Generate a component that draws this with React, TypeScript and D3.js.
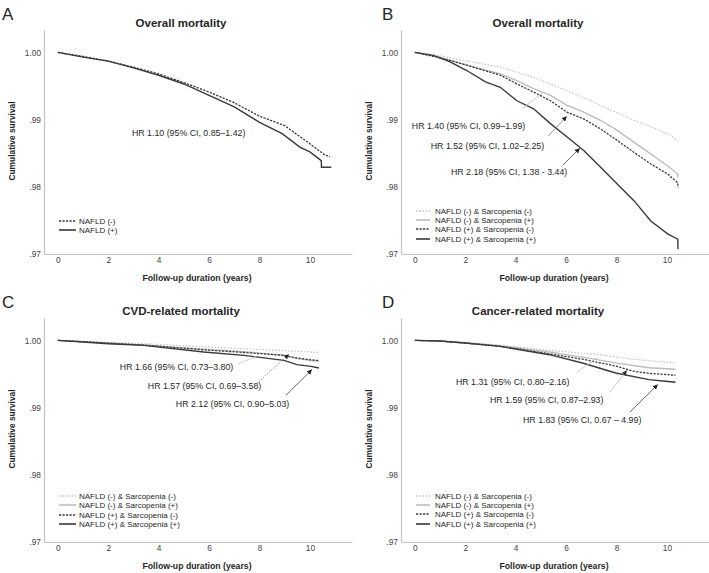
import { useEffect, useRef } from "react";
import * as d3 from "d3";

type Pt = [number, number]; // [years, cumulative survival]

// ---- shared axis values ----
const X_TICKS = [0, 2, 4, 6, 8, 10];
const Y_TICKS = [0.97, 0.98, 0.99, 1.0];
const Y_TICK_LABELS = [".97", ".98", ".99", "1.00"];

// ---- legend labels ----
const LEGEND_NAFLD = ["NAFLD (-)", "NAFLD (+)"];
const LEGEND_GROUPS = [
  "NAFLD (-) & Sarcopenia (-)",
  "NAFLD (-) & Sarcopenia (+)",
  "NAFLD (+) & Sarcopenia (-)",
  "NAFLD (+) & Sarcopenia (+)",
];

// ---- panel A : overall mortality by NAFLD ----
const A_NAFLD_NEG: Pt[] = [
  [0, 1], [1, 0.9994], [2, 0.9987], [3, 0.9978], [4, 0.9968], [5, 0.9955],
  [6, 0.9941], [7, 0.9925], [8, 0.9905], [9, 0.9891], [10, 0.9864],
  [10.6, 0.9847], [10.8, 0.9845],
];
const A_NAFLD_POS: Pt[] = [
  [0, 1], [1, 0.9993], [2, 0.9987], [3, 0.9977], [4, 0.9966], [5, 0.9953],
  [6, 0.9936], [7, 0.9919], [8, 0.9896], [8.9, 0.9879], [9.6, 0.9859],
  [10, 0.9852], [10.45, 0.9839], [10.46, 0.9829], [10.85, 0.9829],
];

// ---- panel B : overall mortality by NAFLD x sarcopenia ----
const B_NEG_NEG: Pt[] = [
  [0, 1], [1, 0.9995], [2.06, 0.9987], [3.39, 0.9978], [4.71, 0.9963],
  [6.04, 0.9943], [7.37, 0.9921], [8.7, 0.9899], [10.03, 0.9879], [10.43, 0.9869],
];
const B_NEG_POS: Pt[] = [
  [0, 1], [1, 0.9993], [2.06, 0.9981], [3.39, 0.9968], [4.05, 0.9958],
  [4.71, 0.9946], [5.38, 0.9936], [6.04, 0.9921], [6.7, 0.9911], [7.37, 0.9899],
  [8.03, 0.9884], [8.7, 0.9866], [9.36, 0.9849], [10.03, 0.9831],
  [10.43, 0.9819], [10.44, 0.9814],
];
const B_POS_NEG: Pt[] = [
  [0, 1], [1, 0.9992], [2.06, 0.9981], [3.39, 0.9966], [4.05, 0.9953],
  [4.71, 0.9941], [5.38, 0.9928], [6.04, 0.9911], [6.7, 0.9901], [7.37, 0.9886],
  [8.03, 0.9869], [8.7, 0.9851], [9.36, 0.9834], [10.03, 0.9819],
  [10.43, 0.9806], [10.44, 0.9799],
];
const B_POS_POS: Pt[] = [
  [0, 1], [0.73, 0.99955], [1.4, 0.9986], [2.06, 0.9973], [2.8, 0.9956],
  [3.39, 0.9948], [4.05, 0.9928], [4.71, 0.9916], [5.38, 0.9894], [6.04, 0.9874],
  [6.7, 0.9854], [7.37, 0.9829], [8.03, 0.9804], [8.7, 0.9779], [9.36, 0.9749],
  [10.03, 0.973], [10.43, 0.9722], [10.44, 0.9707],
];

// ---- panel C : CVD-related mortality ----
const C_NEG_NEG: Pt[] = [
  [0, 1], [2, 0.9997], [4, 0.9994], [6, 0.999], [7.38, 0.99876], [10.36, 0.9982],
];
const C_NEG_POS: Pt[] = [
  [0, 1], [2, 0.9996], [3.41, 0.9993], [5.79, 0.9987], [7.38, 0.9983],
  [8.97, 0.9978], [9.48, 0.9973], [10.04, 0.997], [10.36, 0.9969],
];
const C_POS_NEG: Pt[] = [
  [0, 1], [2, 0.9996], [3.41, 0.9993], [5.79, 0.9986], [7.38, 0.9982],
  [8.97, 0.99776], [9.3, 0.9975], [10.04, 0.9971], [10.36, 0.997],
];
const C_POS_POS: Pt[] = [
  [0, 1], [1, 0.99975], [2, 0.9995], [3.41, 0.99926], [5.79, 0.99827],
  [7.38, 0.99777], [8.97, 0.99703], [9.48, 0.99639], [10.04, 0.99614], [10.36, 0.99589],
];

// ---- panel D : cancer-related mortality ----
const D_NEG_NEG: Pt[] = [
  [0, 1], [1, 0.9999], [2, 0.9997], [3.36, 0.9993], [5.34, 0.9985],
  [7.3, 0.9979], [8.63, 0.9972], [10.34, 0.99666],
];
const D_NEG_POS: Pt[] = [
  [0, 1], [1, 0.9999], [2, 0.9996], [3.36, 0.9992], [5.34, 0.99828],
  [6.65, 0.9975], [7.97, 0.99666], [9.29, 0.99593], [10.34, 0.9957],
];
const D_POS_NEG: Pt[] = [
  [0, 1], [1, 0.9999], [2, 0.9996], [3.36, 0.99915], [5.34, 0.998],
  [6.65, 0.9972], [7.97, 0.99618], [8.63, 0.99544], [9.29, 0.9951], [10.34, 0.9948],
];
const D_POS_POS: Pt[] = [
  [0, 1], [1, 0.9999], [2, 0.9996], [3.36, 0.99911], [5.34, 0.99787],
  [6.65, 0.99663], [7.97, 0.99515], [9.29, 0.99416], [9.95, 0.99391], [10.34, 0.99376],
];

// line styles
const STYLE = {
  lightDot: { stroke: "#c6c6c6", dash: "1.6,1.6", width: 1.2 },
  lightSolid: { stroke: "#bdbdbd", dash: "", width: 1.4 },
  darkDash: { stroke: "#3a3a3a", dash: "2.2,1.3", width: 1.3 },
  darkSolid: { stroke: "#3a3a3a", dash: "", width: 1.4 },
};
type StyleKey = keyof typeof STYLE;

interface Note { text: string; at: Pt }
interface Arrow { from: Pt; to: Pt; color: string; dash?: string; head: boolean }
interface Panel {
  letter: string;
  title: string;
  dx: number;
  dy: number;
  letterX: number;
  series: { data: Pt[]; style: StyleKey }[];
  legend: { labels: string[]; x1: number; x2: number; tx: number; rows: number[] };
  notes: Note[];
  arrows: Arrow[];
}

const PANELS: Panel[] = [
  {
    letter: "A", title: "Overall mortality", dx: 0, dy: 0, letterX: 2,
    series: [
      { data: A_NAFLD_NEG, style: "darkDash" },
      { data: A_NAFLD_POS, style: "darkSolid" },
    ],
    legend: { labels: LEGEND_NAFLD, x1: 59, x2: 76, tx: 79, rows: [221, 230] },
    notes: [{ text: "HR 1.10 (95% CI, 0.85–1.42)", at: [2.94, 0.98797] }],
    arrows: [],
  },
  {
    letter: "B", title: "Overall mortality", dx: 357, dy: 0, letterX: 25,
    series: [
      { data: B_NEG_NEG, style: "lightDot" },
      { data: B_NEG_POS, style: "lightSolid" },
      { data: B_POS_NEG, style: "darkDash" },
      { data: B_POS_POS, style: "darkSolid" },
    ],
    legend: { labels: LEGEND_GROUPS, x1: 59, x2: 73, tx: 78, rows: [211, 220, 229, 239] },
    notes: [
      { text: "HR 1.40 (95% CI, 0.99–1.99)", at: [-0.12, 0.98901] },
      { text: "HR 1.52 (95% CI, 1.02–2.25)", at: [0.63, 0.98604] },
      { text: "HR 2.18 (95% CI, 1.38 - 3.44)", at: [1.43, 0.98218] },
    ],
    arrows: [
      { from: [4.29, 0.99168], to: [5.04, 0.99391], color: "#c4c4c4", head: false },
      { from: [5.28, 0.98752], to: [6.03, 0.99049], color: "#8a8a8a", head: true },
      { from: [5.87, 0.98322], to: [6.55, 0.98574], color: "#555", head: true },
    ],
  },
  {
    letter: "C", title: "CVD-related mortality", dx: 0, dy: 288, letterX: 2,
    series: [
      { data: C_NEG_NEG, style: "lightDot" },
      { data: C_NEG_POS, style: "lightSolid" },
      { data: C_POS_NEG, style: "darkDash" },
      { data: C_POS_POS, style: "darkSolid" },
    ],
    legend: { labels: LEGEND_GROUPS, x1: 59, x2: 76, tx: 79, rows: [208, 217, 227, 236] },
    notes: [
      { text: "HR 1.66 (95% CI, 0.73–3.80)", at: [2.46, 0.99599] },
      { text: "HR 1.57 (95% CI, 0.69–3.58)", at: [3.57, 0.99317] },
      { text: "HR 2.12 (95% CI, 0.90–5.03)", at: [4.68, 0.99049] },
    ],
    arrows: [
      { from: [7.14, 0.99644], to: [7.86, 0.99762], color: "#c8c8c8", head: false },
      { from: [7.9, 0.99361], to: [9.17, 0.99795], color: "#9a9a9a", dash: "1.5,1.2", head: true },
      { from: [9.05, 0.99183], to: [10.08, 0.99565], color: "#555", head: true },
    ],
  },
  {
    letter: "D", title: "Cancer-related mortality", dx: 357, dy: 288, letterX: 25,
    series: [
      { data: D_NEG_NEG, style: "lightDot" },
      { data: D_NEG_POS, style: "lightSolid" },
      { data: D_POS_NEG, style: "darkDash" },
      { data: D_POS_POS, style: "darkSolid" },
    ],
    legend: { labels: LEGEND_GROUPS, x1: 59, x2: 73, tx: 78, rows: [208, 217, 226, 236] },
    notes: [
      { text: "HR 1.31 (95% CI, 0.80–2.16)", at: [1.63, 0.99376] },
      { text: "HR 1.59 (95% CI, 0.87–2.93)", at: [2.98, 0.99109] },
      { text: "HR 1.83 (95% CI, 0.67 – 4.99)", at: [4.29, 0.98812] },
    ],
    arrows: [
      { from: [6.43, 0.99525], to: [7.26, 0.99748], color: "#c8c8c8", head: false },
      { from: [7.74, 0.99228], to: [8.41, 0.99554], color: "#9a9a9a", dash: "1.5,1.2", head: true },
      { from: [8.53, 0.98931], to: [9.64, 0.99345], color: "#555", head: true },
    ],
  },
];

const FONT = "'Liberation Sans', Arial, Helvetica, sans-serif";
const TEXT = "#262626";
const AXIS = "#c2c2c2";

export default function App() {
  const svgRef = useRef<SVGSVGElement>(null);

  useEffect(() => {
    if (!svgRef.current) return;
    const svg = d3.select(svgRef.current);
    svg.selectAll("*").remove();

    // arrow head
    svg.append("defs")
      .append("marker")
      .attr("id", "head")
      .attr("viewBox", "0 0 6 6")
      .attr("refX", 6)
      .attr("refY", 3)
      .attr("markerWidth", 5)
      .attr("markerHeight", 5)
      .attr("markerUnits", "userSpaceOnUse")
      .attr("orient", "auto")
      .append("path")
      .attr("d", "M0,0 L6,3 L0,6 Z")
      .attr("fill", "#222");

    // local scales, same in every panel
    const x = d3.scaleLinear().domain([-0.55, 11.67]).range([44, 352]);
    const y = d3.scaleLinear().domain([0.97, 1.00333]).range([254, 30]);

    const line = d3.line<Pt>()
      .x((d) => x(d[0]))
      .y((d) => y(d[1]));

    PANELS.forEach((p) => {
      const g = svg.append("g").attr("transform", `translate(${p.dx},${p.dy})`);

      // panel letter
      g.append("text")
        .attr("x", p.letterX)
        .attr("y", 20)
        .style("font-family", FONT)
        .style("font-size", "17px")
        .attr("fill", TEXT)
        .text(p.letter);

      // title
      g.append("text")
        .attr("x", 181)
        .attr("y", 26.5)
        .attr("text-anchor", "middle")
        .style("font-family", FONT)
        .style("font-size", "11.5px")
        .style("font-weight", "bold")
        .attr("fill", TEXT)
        .text(p.title);

      // axes
      const yAxis = g.append("g")
        .attr("transform", `translate(${x.range()[0]},0)`)
        .call(
          d3.axisLeft(y)
            .tickValues(Y_TICKS)
            .tickSize(0)
            .tickPadding(3)
            .tickFormat((_, i) => Y_TICK_LABELS[i])
        );
      const xAxis = g.append("g")
        .attr("transform", `translate(0,${y.range()[0]})`)
        .call(
          d3.axisBottom(x)
            .tickValues(X_TICKS)
            .tickSize(0)
            .tickPadding(3)
            .tickFormat((d) => String(d))
        );
      [yAxis, xAxis].forEach((a) => {
        a.select(".domain").attr("stroke", AXIS).attr("stroke-width", 1.2);
        a.selectAll("text")
          .style("font-family", FONT)
          .style("font-size", "8.3px")
          .attr("fill", "#444");
      });

      // axis titles
      g.append("text")
        .attr("x", 197)
        .attr("y", 281)
        .attr("text-anchor", "middle")
        .style("font-family", FONT)
        .style("font-size", "8.7px")
        .style("font-weight", "bold")
        .attr("fill", TEXT)
        .text("Follow-up duration (years)");
      g.append("text")
        .attr("transform", "translate(15,141) rotate(-90)")
        .attr("text-anchor", "middle")
        .style("font-family", FONT)
        .style("font-size", "8.4px")
        .style("font-weight", "bold")
        .attr("fill", TEXT)
        .text("Cumulative survival");

      // survival curves
      p.series.forEach((s) => {
        const st = STYLE[s.style];
        g.append("path")
          .datum(s.data)
          .attr("fill", "none")
          .attr("stroke", st.stroke)
          .attr("stroke-width", st.width)
          .attr("stroke-dasharray", st.dash || null)
          .attr("d", line);
      });

      // HR notes
      p.notes.forEach((n) => {
        g.append("text")
          .attr("x", x(n.at[0]))
          .attr("y", y(n.at[1]))
          .attr("dy", "0.35em")
          .style("font-family", FONT)
          .style("font-size", "8.8px")
          .attr("fill", TEXT)
          .text(n.text);
      });

      // pointers
      p.arrows.forEach((a) => {
        g.append("line")
          .attr("x1", x(a.from[0]))
          .attr("y1", y(a.from[1]))
          .attr("x2", x(a.to[0]))
          .attr("y2", y(a.to[1]))
          .attr("stroke", a.color)
          .attr("stroke-width", 0.9)
          .attr("stroke-dasharray", a.dash || null)
          .attr("marker-end", a.head ? "url(#head)" : null);
      });

      // legend
      const leg = g.append("g");
      p.legend.labels.forEach((lab, i) => {
        const st = p.legend.labels.length === 2
          ? STYLE[i === 0 ? "darkDash" : "darkSolid"]
          : STYLE[(["lightDot", "lightSolid", "darkDash", "darkSolid"] as StyleKey[])[i]];
        const ry = p.legend.rows[i];
        leg.append("line")
          .attr("x1", p.legend.x1)
          .attr("x2", p.legend.x2)
          .attr("y1", ry)
          .attr("y2", ry)
          .attr("stroke", st.stroke)
          .attr("stroke-width", st.width + 0.2)
          .attr("stroke-dasharray", st.dash || null);
        leg.append("text")
          .attr("x", p.legend.tx)
          .attr("y", ry)
          .attr("dy", "0.35em")
          .style("font-family", FONT)
          .style("font-size", "8px")
          .attr("fill", TEXT)
          .text(lab);
      });
    });
  }, []);

  return (
    <div style={{ position: "absolute", left: 0, top: 0 }}>
      <svg
        ref={svgRef}
        width={709}
        height={573}
        style={{ display: "block", background: "#fff" }}
      />
    </div>
  );
}
